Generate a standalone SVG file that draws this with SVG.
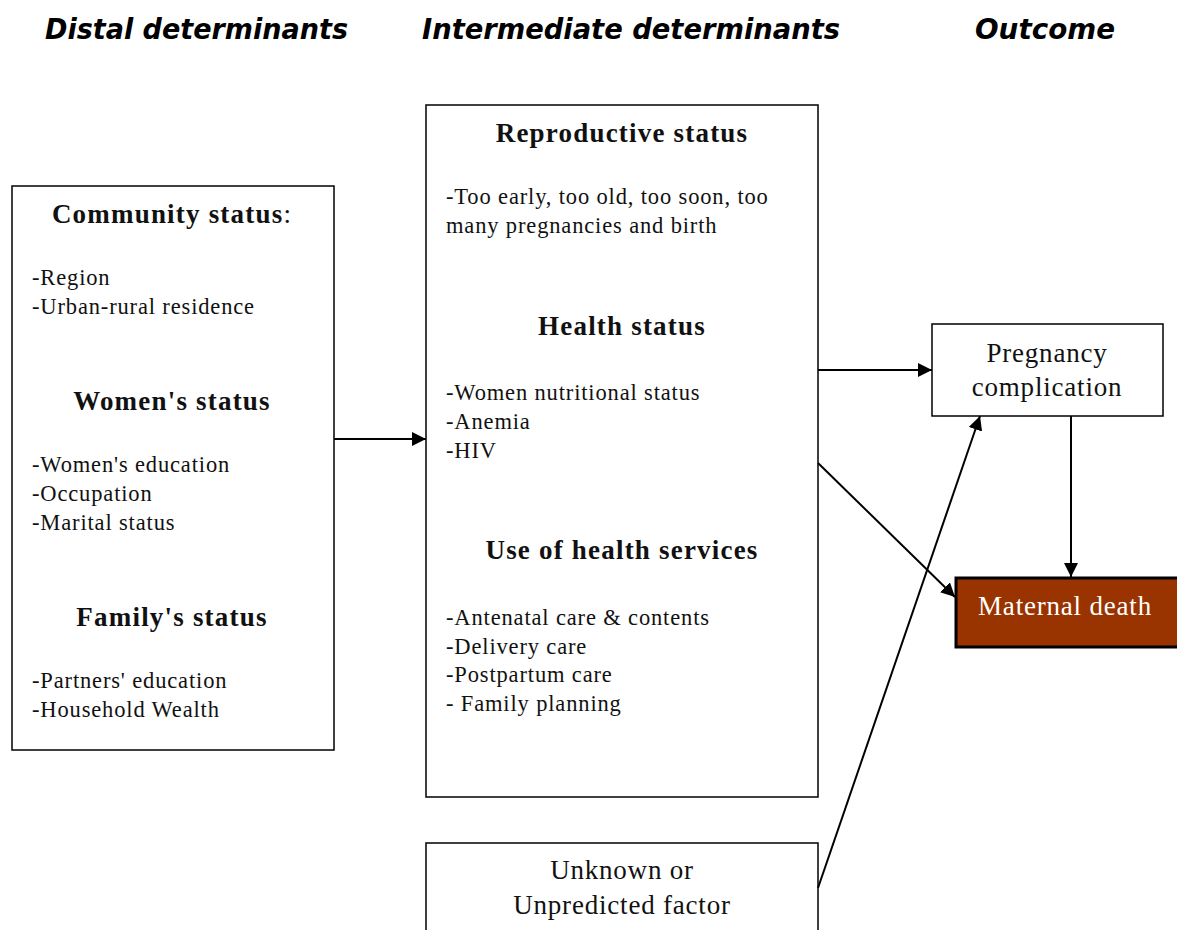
<svg xmlns="http://www.w3.org/2000/svg" width="1177" height="930" viewBox="0 0 1177 930">
  <defs>
    <marker id="arrow" viewBox="0 0 10 10" refX="10" refY="5" markerWidth="14" markerHeight="14" markerUnits="userSpaceOnUse" orient="auto">
      <path d="M0,0 L10,5 L0,10 z" fill="#000"/>
    </marker>
    <style>
      .head { font-family: "DejaVu Sans", sans-serif; font-weight: bold; font-style: italic; font-size: 28px; fill: #000; }
      .box { fill: #fff; stroke: #000; stroke-width: 1.5; }
      .title { font-family: "Liberation Serif", serif; font-weight: bold; font-size: 27px; letter-spacing: 1.2px; fill: #111; text-anchor: middle; }
      .item { font-family: "Liberation Serif", serif; font-size: 22.5px; letter-spacing: 0.85px; fill: #111; }
      .label { font-family: "Liberation Serif", serif; font-size: 27px; letter-spacing: 0.8px; fill: #111; text-anchor: middle; }
      .conn { stroke: #000; stroke-width: 2; fill: none; marker-end: url(#arrow); }
    </style>
  </defs>

  <!-- column headings -->
  <text class="head" x="45" y="39" textLength="303" lengthAdjust="spacingAndGlyphs">Distal determinants</text>
  <text class="head" x="422" y="39" textLength="418" lengthAdjust="spacingAndGlyphs">Intermediate determinants</text>
  <text class="head" x="975" y="39" textLength="140" lengthAdjust="spacingAndGlyphs">Outcome</text>

  <!-- distal determinants -->
  <g id="distal">
    <rect class="box" x="12" y="186" width="322" height="564"/>
    <text class="title" x="172" y="223">Community status<tspan font-weight="normal">:</tspan></text>
    <text class="item" x="32" y="285">-Region</text>
    <text class="item" x="32" y="314">-Urban-rural residence</text>
    <text class="title" x="172" y="410">Women's status</text>
    <text class="item" x="32" y="472">-Women's education</text>
    <text class="item" x="32" y="501">-Occupation</text>
    <text class="item" x="32" y="530">-Marital status</text>
    <text class="title" x="172" y="626">Family's status</text>
    <text class="item" x="32" y="688">-Partners' education</text>
    <text class="item" x="32" y="717">-Household Wealth</text>
  </g>

  <!-- intermediate determinants -->
  <g id="intermediate">
    <rect class="box" x="426" y="105" width="392" height="692"/>
    <text class="title" x="622" y="142">Reproductive status</text>
    <text class="item" x="446" y="204">-Too early, too old, too soon, too</text>
    <text class="item" x="446" y="233">many pregnancies and birth</text>
    <text class="title" x="622" y="335">Health status</text>
    <text class="item" x="446" y="400">-Women nutritional status</text>
    <text class="item" x="446" y="429">-Anemia</text>
    <text class="item" x="446" y="458">-HIV</text>
    <text class="title" x="622" y="559">Use of health services</text>
    <text class="item" x="446" y="625">-Antenatal care &amp; contents</text>
    <text class="item" x="446" y="654">-Delivery care</text>
    <text class="item" x="446" y="682">-Postpartum care</text>
    <text class="item" x="446" y="711">- Family planning</text>
  </g>

  <!-- unknown factor -->
  <g id="unknown">
    <rect class="box" x="426" y="843" width="392" height="100"/>
    <text class="label" x="622" y="879">Unknown or</text>
    <text class="label" x="622" y="914">Unpredicted factor</text>
  </g>

  <!-- pregnancy complication -->
  <g id="complication">
    <rect class="box" x="932" y="324" width="231" height="92"/>
    <text class="label" x="1047" y="362">Pregnancy</text>
    <text class="label" x="1047" y="396">complication</text>
  </g>

  <!-- maternal death -->
  <g id="death">
    <rect x="956" y="578" width="226" height="69" fill="#993300" stroke="#000" stroke-width="3"/>
    <text class="label" x="1065" y="615" style="fill:#fff">Maternal death</text>
  </g>

  <!-- connectors -->
  <g id="connectors">
    <line class="conn" x1="334" y1="439" x2="426" y2="439"/>
    <line class="conn" x1="818" y1="370" x2="932" y2="370"/>
    <line class="conn" x1="818" y1="463" x2="955" y2="597"/>
    <line class="conn" x1="1071" y1="416" x2="1071" y2="577"/>
    <line class="conn" x1="818" y1="888" x2="980" y2="416"/>
  </g>
</svg>
